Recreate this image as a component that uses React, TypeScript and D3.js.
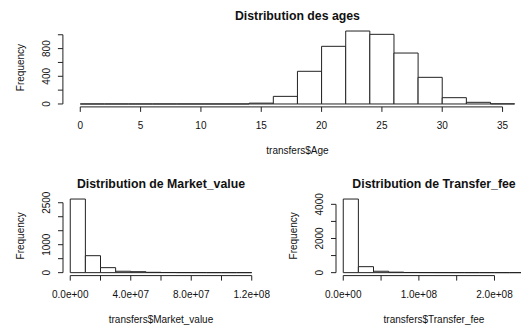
import React from "react";
import * as d3 from "d3";

// ---- data ----
const ageBreaks = [0, 2, 4, 6, 8, 10, 12, 14, 16, 18, 20, 22, 24, 26, 28, 30, 32, 34, 36];
const ageCounts = [0, 0, 0, 0, 0, 0, 0, 12, 110, 472, 833, 1054, 1006, 736, 385, 91, 24, 2];
const ageXTicks = [0, 5, 10, 15, 20, 25, 30, 35];
const ageXLabels = ["0", "5", "10", "15", "20", "25", "30", "35"];
const ageYTicks = [0, 200, 400, 600, 800, 1000];
const ageYLabels = ["0", "", "400", "", "800", ""];

const marketBreaks = [0, 1e7, 2e7, 3e7, 4e7, 5e7, 6e7, 7e7, 8e7, 9e7, 1e8, 1.1e8, 1.2e8];
const marketCounts = [2632, 607, 179, 50, 35, 12, 6, 3, 2, 1, 0, 1];
const marketXTicks = [0, 2e7, 4e7, 6e7, 8e7, 1e8, 1.2e8];
const marketXLabels = ["0.0e+00", "", "4.0e+07", "", "8.0e+07", "", "1.2e+08"];
const marketYTicks = [0, 500, 1000, 1500, 2000, 2500];
const marketYLabels = ["0", "", "1000", "", "", "2500"];

const feeBreaks = [0, 2e7, 4e7, 6e7, 8e7, 1e8, 1.2e8, 1.4e8, 1.6e8, 1.8e8, 2e8, 2.2e8, 2.4e8];
const feeCounts = [4310, 351, 82, 30, 10, 5, 3, 2, 1, 1, 0, 1];
const feeXTicks = [0, 5e7, 1e8, 1.5e8, 2e8];
const feeXLabels = ["0.0e+00", "", "1.0e+08", "", "2.0e+08"];
const feeYTicks = [0, 1000, 2000, 3000, 4000];
const feeYLabels = ["0", "", "2000", "", "4000"];

const FONT = "'Liberation Sans', Arial, Helvetica, sans-serif";
const INK = "#222";

type PanelProps = {
  left: number; right: number; top: number; bottom: number;
  breaks: number[]; counts: number[];
  xTicks: number[]; xLabels: string[];
  yTicks: number[]; yLabels: string[];
  title: string; xTitle: string;
};

function Hist(p: PanelProps) {
  const x0 = p.breaks[0];
  const x1 = p.breaks[p.breaks.length - 1];
  const xr = x1 - x0;
  const x = d3.scaleLinear().domain([x0 - 0.04 * xr, x1 + 0.04 * xr]).range([p.left, p.right]);
  const ymax = d3.max(p.counts) as number;
  const y = d3.scaleLinear().domain([-0.04 * ymax, 1.04 * ymax]).range([p.bottom, p.top]);
  const cx = (p.left + p.right) / 2;
  const cy = (p.top + p.bottom) / 2;
  const tick = 5;
  return (
    <g>
      {p.counts.map((c, i) => {
        const a = x(p.breaks[i]);
        const b = x(p.breaks[i + 1]);
        const y0 = y(0);
        const y1 = y(c);
        return (
          <path key={i} d={`M${a},${y0}V${y1}H${b}V${y0}Z`} fill="#fff" stroke={INK} strokeWidth={1} />
        );
      })}
      {/* x axis */}
      <line x1={x(p.xTicks[0])} x2={x(p.xTicks[p.xTicks.length - 1])} y1={p.bottom} y2={p.bottom} stroke={INK} />
      {p.xTicks.map((t, i) => (
        <g key={i}>
          <line x1={x(t)} x2={x(t)} y1={p.bottom} y2={p.bottom + tick} stroke={INK} />
          {p.xLabels[i] && (
            <text x={x(t)} y={p.bottom + 22} textAnchor="middle" fontSize={10} fontFamily={FONT} fill="#111">
              {p.xLabels[i]}
            </text>
          )}
        </g>
      ))}
      {/* y axis */}
      <line x1={p.left} x2={p.left} y1={y(p.yTicks[0])} y2={y(p.yTicks[p.yTicks.length - 1])} stroke={INK} />
      {p.yTicks.map((t, i) => (
        <g key={i}>
          <line x1={p.left - tick} x2={p.left} y1={y(t)} y2={y(t)} stroke={INK} />
          {p.yLabels[i] && (
            <text transform={`translate(${p.left - 16.5},${y(t)}) rotate(-90)`} dy="0.35em" textAnchor="middle"
              fontSize={10} fontFamily={FONT} fill="#111">
              {p.yLabels[i]}
            </text>
          )}
        </g>
      ))}
      <text transform={`translate(${p.left - 42.5},${cy}) rotate(-90)`} dy="0.35em" textAnchor="middle"
        fontSize={10} fontFamily={FONT} fill="#111">Frequency</text>
      <text x={cx} y={p.bottom + 47} textAnchor="middle" fontSize={10} fontFamily={FONT} fill="#111">{p.xTitle}</text>
      <text x={cx} y={p.top - 8.5} textAnchor="middle" fontSize={12.3} fontWeight="bold" fontFamily={FONT} fill="#111">{p.title}</text>
    </g>
  );
}

export default function App() {
  return (
    <svg width={521} height={325} style={{ position: "absolute", left: 0, top: 0, background: "#fff" }}>
      <rect width={521} height={325} fill="#fff" />
      <Hist left={62.9} right={532} top={28.1} bottom={106.9}
        breaks={ageBreaks} counts={ageCounts}
        xTicks={ageXTicks} xLabels={ageXLabels} yTicks={ageYTicks} yLabels={ageYLabels}
        title="Distribution des ages" xTitle="transfers$Age" />
      <Hist left={63} right={259} top={196.1} bottom={275.6}
        breaks={marketBreaks} counts={marketCounts}
        xTicks={marketXTicks} xLabels={marketXLabels} yTicks={marketYTicks} yLabels={marketYLabels}
        title="Distribution de Market_value" xTitle="transfers$Market_value" />
      <Hist left={336} right={532} top={196.1} bottom={275.6}
        breaks={feeBreaks} counts={feeCounts}
        xTicks={feeXTicks} xLabels={feeXLabels} yTicks={feeYTicks} yLabels={feeYLabels}
        title="Distribution de Transfer_fee" xTitle="transfers$Transfer_fee" />
    </svg>
  );
}
